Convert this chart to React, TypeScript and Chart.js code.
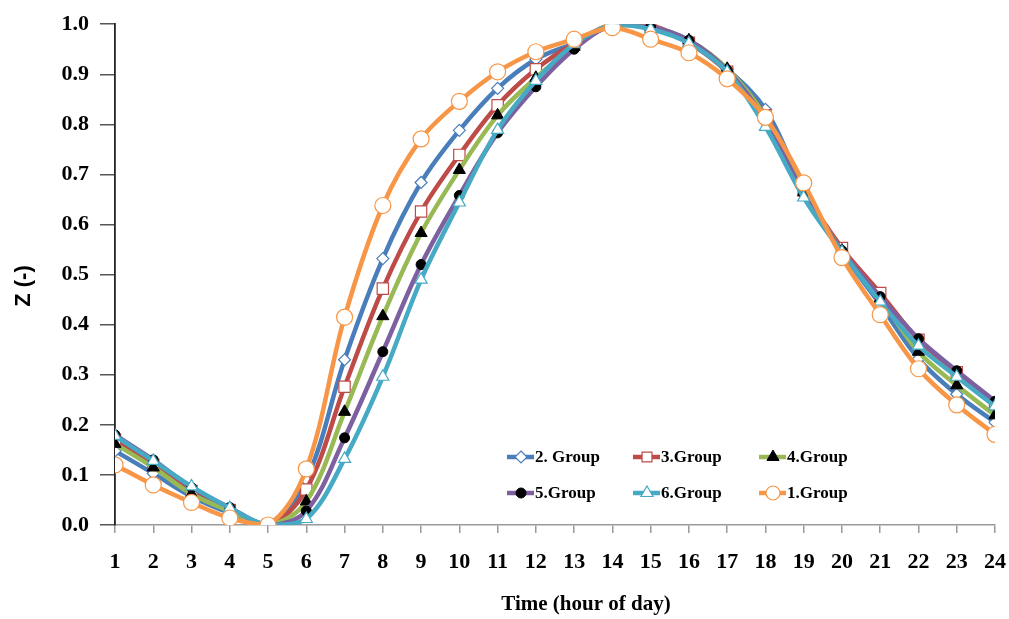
import React, { useEffect, useRef } from "react";
import { Chart, registerables } from "chart.js";

Chart.register(...registerables);

const hours = [1, 2, 3, 4, 5, 6, 7, 8, 9, 10, 11, 12, 13, 14, 15, 16, 17, 18, 19, 20, 21, 22, 23, 24];

const group1 = [0.12, 0.08, 0.045, 0.014, 0, 0.112, 0.415, 0.638, 0.771, 0.846, 0.905, 0.945, 0.97, 0.993, 0.97, 0.943, 0.891, 0.814, 0.683, 0.534, 0.42, 0.312, 0.24, 0.181];
const group2 = [0.148, 0.103, 0.057, 0.024, 0, 0.09, 0.33, 0.532, 0.684, 0.788, 0.872, 0.93, 0.962, 0.997, 0.995, 0.965, 0.91, 0.83, 0.672, 0.545, 0.44, 0.332, 0.261, 0.205];
const group3 = [0.17, 0.12, 0.068, 0.03, 0, 0.071, 0.276, 0.472, 0.626, 0.739, 0.838, 0.91, 0.962, 1.0, 0.998, 0.963, 0.905, 0.818, 0.668, 0.553, 0.463, 0.37, 0.305, 0.24];
const group4 = [0.162, 0.115, 0.062, 0.028, 0, 0.047, 0.226, 0.417, 0.583, 0.709, 0.818, 0.893, 0.955, 1.0, 0.995, 0.968, 0.911, 0.815, 0.665, 0.548, 0.452, 0.346, 0.279, 0.219];
const group5 = [0.18, 0.13, 0.075, 0.035, 0, 0.028, 0.174, 0.346, 0.52, 0.658, 0.783, 0.875, 0.95, 0.998, 0.995, 0.968, 0.908, 0.808, 0.662, 0.548, 0.456, 0.372, 0.308, 0.247];
const group6 = [0.178, 0.128, 0.077, 0.034, 0, 0.012, 0.132, 0.296, 0.49, 0.644, 0.789, 0.887, 0.96, 0.998, 0.99, 0.962, 0.905, 0.795, 0.654, 0.545, 0.446, 0.358, 0.296, 0.237];

const yTicks = [0, 0.1, 0.2, 0.3, 0.4, 0.5, 0.6, 0.7, 0.8, 0.9, 1.0];

const xTitle = "Time (hour of day)";
const yTitle = "Z (-)";

const SERIF = "'Liberation Serif', 'Times New Roman', serif";
const SANS = "'Liberation Sans', Arial, sans-serif";

type SeriesDef = {
  label: string;
  data: number[];
  color: string;
  pointStyle: string;
  radius: number;
  fill: string;
  stroke: string;
  pbw: number;
  order: number;
};

const series: SeriesDef[] = [
  { label: "2. Group", data: group2, color: "#4A7EBB", pointStyle: "rectRot", radius: 6, fill: "#ffffff", stroke: "#4A7EBB", pbw: 1.2, order: 6 },
  { label: "3.Group", data: group3, color: "#BE4B48", pointStyle: "rect", radius: 8, fill: "#ffffff", stroke: "#BE4B48", pbw: 1.2, order: 5 },
  { label: "4.Group", data: group4, color: "#98B954", pointStyle: "triangle", radius: 7, fill: "#000000", stroke: "#000000", pbw: 1, order: 4 },
  { label: "5.Group", data: group5, color: "#7D60A0", pointStyle: "circle", radius: 5, fill: "#000000", stroke: "#000000", pbw: 1, order: 3 },
  { label: "6.Group", data: group6, color: "#46AAC5", pointStyle: "triangle", radius: 7, fill: "#ffffff", stroke: "#46AAC5", pbw: 1.2, order: 2 },
  { label: "1.Group", data: group1, color: "#F79646", pointStyle: "circle", radius: 8, fill: "#ffffff", stroke: "#F79646", pbw: 1.2, order: 1 },
];

function drawMarker(ctx: CanvasRenderingContext2D, s: SeriesDef, x: number, y: number) {
  const r = s.radius;
  ctx.save();
  ctx.fillStyle = s.fill;
  ctx.strokeStyle = s.stroke;
  ctx.lineWidth = s.pbw;
  ctx.beginPath();
  if (s.pointStyle === "circle") {
    ctx.arc(x, y, r, 0, Math.PI * 2);
  } else if (s.pointStyle === "rect") {
    const h = r * Math.SQRT1_2;
    ctx.rect(x - h, y - h, 2 * h, 2 * h);
  } else if (s.pointStyle === "rectRot") {
    ctx.moveTo(x, y - r);
    ctx.lineTo(x + r, y);
    ctx.lineTo(x, y + r);
    ctx.lineTo(x - r, y);
    ctx.closePath();
  } else if (s.pointStyle === "triangle") {
    const a = Math.PI / 2;
    ctx.moveTo(x + Math.cos(-a) * r, y + Math.sin(-a) * r);
    ctx.lineTo(x + Math.cos(-a + (2 * Math.PI) / 3) * r, y + Math.sin(-a + (2 * Math.PI) / 3) * r);
    ctx.lineTo(x + Math.cos(-a + (4 * Math.PI) / 3) * r, y + Math.sin(-a + (4 * Math.PI) / 3) * r);
    ctx.closePath();
  }
  ctx.fill();
  ctx.stroke();
  ctx.restore();
}

const legendCols = [507, 633, 759];
const legendRows = [457, 493];

const textPlugin = {
  id: "customText",
  afterDraw(chart: any) {
    const ctx: CanvasRenderingContext2D = chart.ctx;
    ctx.save();
    // x title
    ctx.fillStyle = "#000";
    ctx.font = `bold 21px ${SERIF}`;
    ctx.textAlign = "center";
    ctx.textBaseline = "middle";
    ctx.fillText(xTitle, 586, 605);
    // y title
    ctx.save();
    ctx.translate(24, 286);
    ctx.rotate(-Math.PI / 2);
    ctx.font = `bold 22px ${SANS}`;
    ctx.fillText(yTitle, 0, 0);
    ctx.restore();
    // legend
    ctx.font = `bold 17px ${SERIF}`;
    ctx.textAlign = "left";
    series.forEach((s, i) => {
      const col = i % 3;
      const row = Math.floor(i / 3);
      const x0 = legendCols[col];
      const y0 = legendRows[row];
      ctx.strokeStyle = s.color;
      ctx.lineWidth = 4.5;
      ctx.beginPath();
      ctx.moveTo(x0, y0);
      ctx.lineTo(x0 + 27, y0);
      ctx.stroke();
      drawMarker(ctx, { ...s, radius: Math.min(s.radius, 7) }, x0 + 14, y0);
      ctx.fillStyle = "#000";
      ctx.fillText(s.label, x0 + 28, y0 + 1);
    });
    ctx.restore();
  },
};

export default function App() {
  const ref = useRef<HTMLCanvasElement | null>(null);
  useEffect(() => {
    if (!ref.current) return;
    const chart = new Chart(ref.current, {
      type: "line",
      data: {
        labels: hours,
        datasets: series.map((s) => ({
          label: s.label,
          data: hours.map((h, i) => ({ x: h, y: s.data[i] })),
          borderColor: s.color,
          borderWidth: 4.5,
          backgroundColor: s.fill,
          pointStyle: s.pointStyle as any,
          pointRadius: s.radius,
          pointBackgroundColor: s.fill,
          pointBorderColor: s.stroke,
          pointBorderWidth: s.pbw,
          tension: 0.35,
          fill: false,
          order: s.order,
        })),
      },
      options: {
        animation: false,
        responsive: false,
        devicePixelRatio: 1,
        layout: { padding: { left: 0, right: 14, top: 18, bottom: 0 } },
        plugins: { legend: { display: false }, tooltip: { enabled: false } },
        scales: {
          x: {
            type: "linear",
            min: 1,
            max: 24,
            afterFit: (scale: any) => {
              scale.height = 94;
              scale.paddingRight = 0;
              scale.paddingLeft = 0;
            },
            ticks: {
              stepSize: 1,
              autoSkip: false,
              maxRotation: 0,
              color: "#000",
              padding: 16,
              font: { family: SERIF, size: 22, weight: "bold" },
            },
            grid: { drawOnChartArea: false, tickLength: 8, color: "#9a9a9a", lineWidth: 1.5 },
            border: { color: "#9a9a9a", width: 1.5 },
          },
          y: {
            min: 0,
            max: 1,
            afterFit: (scale: any) => {
              scale.width = 115;
            },
            afterBuildTicks: (scale: any) => {
              scale.ticks = yTicks.map((v) => ({ value: v }));
            },
            ticks: {
              color: "#000",
              padding: 11,
              callback: (v: any) => Number(v).toFixed(1),
              font: { family: SERIF, size: 22, weight: "bold" },
            },
            grid: { drawOnChartArea: false, tickLength: 15, color: "#555", lineWidth: 1.5 },
            border: { color: "#222", width: 1.8 },
          },
        },
      },
      plugins: [textPlugin],
    });
    return () => chart.destroy();
  }, []);
  return (
    <div style={{ position: "fixed", left: 0, top: 0, width: 1009, height: 619, background: "#fff" }}>
      <canvas ref={ref} width={1009} height={619} style={{ width: 1009, height: 619, display: "block" }} />
    </div>
  );
}
